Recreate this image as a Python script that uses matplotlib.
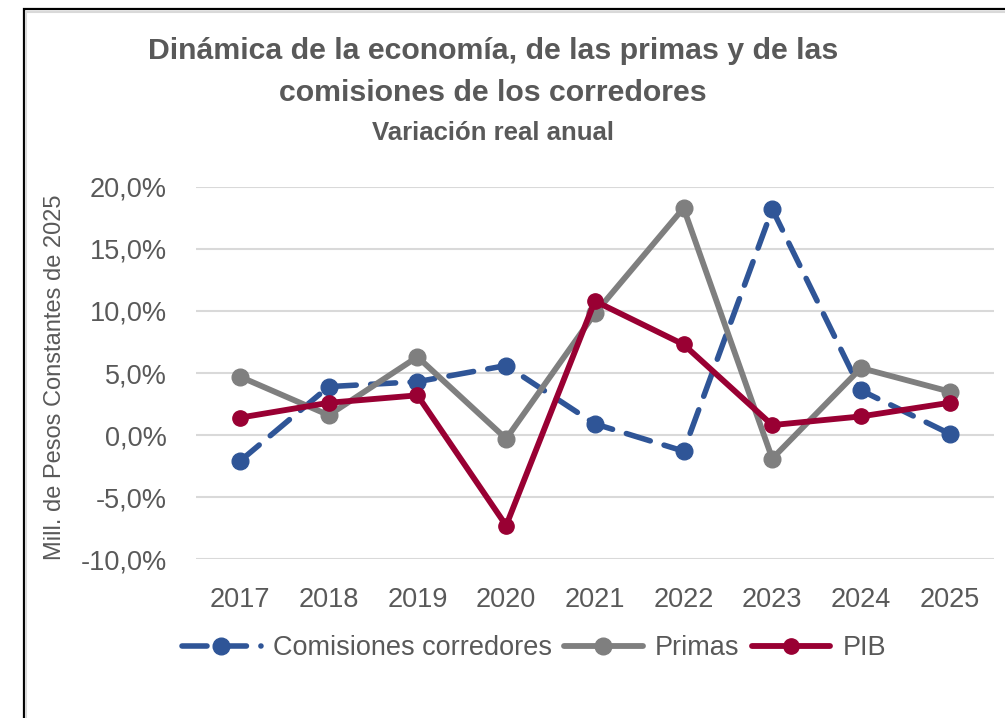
import numpy as np
import matplotlib.pyplot as plt
from matplotlib.patches import Rectangle
from matplotlib.ticker import FuncFormatter

years = [2017, 2018, 2019, 2020, 2021, 2022, 2023, 2024, 2025]
comisiones = [-2.1, 3.9, 4.3, 5.6, 0.9, -1.3, 18.2, 3.6, 0.1]
primas = [4.7, 1.6, 6.3, -0.3, 9.8, 18.3, -1.9, 5.4, 3.5]
pib = [1.4, 2.6, 3.2, -7.3, 10.8, 7.3, 0.8, 1.5, 2.6]

TXT = '#595959'
plt.rcParams['font.family'] = ['Liberation Sans', 'DejaVu Sans']

fig = plt.figure(figsize=(10.05, 7.18), dpi=100)
ax = fig.add_axes([0.1947, 0.2214, 0.7944, 0.5182])

x = np.arange(len(years))
ax.plot(x, comisiones, color='#2F5597', lw=4, dashes=(4.5, 2.6),
        dash_capstyle='round', marker='o', ms=12, label='Comisiones corredores', zorder=3)
ax.plot(x, primas, color='#7F7F7F', lw=4.2, marker='o', ms=12,
        solid_capstyle='round', label='Primas', zorder=3)
ax.plot(x, pib, color='#990033', lw=4.2, marker='o', ms=11,
        solid_capstyle='round', label='PIB', zorder=4)

ax.set_xlim(-0.5, len(years) - 0.5)
ax.set_ylim(-10, 20)
ax.set_yticks(np.arange(-10, 21, 5))
ax.yaxis.set_major_formatter(FuncFormatter(lambda v, p: f'{v:.1f}%'.replace('.', ',')))
ax.set_xticks(x)
ax.set_xticklabels([str(y) for y in years])
ax.grid(axis='y', color='#D9D9D9', lw=1.5, zorder=0)
ax.set_axisbelow(True)
for s in ax.spines.values():
    s.set_visible(False)
ax.tick_params(length=0, labelsize=19.5, labelcolor=TXT)
ax.tick_params(axis='y', pad=21)
ax.tick_params(axis='x', pad=20)

fig.text(55 / 1005, 1 - 377 / 718, 'Mill. de Pesos Constantes de 2025', rotation=90,
         ha='center', va='center', fontsize=17, color=TXT)

fig.text(493 / 1005, 1 - 51 / 718, 'Dinámica de la economía, de las primas y de las',
         ha='center', va='center', fontsize=21.8, fontweight='bold', color=TXT)
fig.text(493 / 1005, 1 - 93 / 718, 'comisiones de los corredores',
         ha='center', va='center', fontsize=21.8, fontweight='bold', color=TXT)
fig.text(493 / 1005, 1 - 133 / 718, 'Variación real anual',
         ha='center', va='center', fontsize=18.5, fontweight='bold', color=TXT)

leg = fig.legend(loc='center', bbox_to_anchor=(534 / 1005, 1 - 648 / 718), ncol=3,
                 frameon=False, fontsize=19.5, handlelength=2.9, handletextpad=0.45,
                 columnspacing=0.45, borderaxespad=0)
for t in leg.get_texts():
    t.set_color(TXT)

# chart frame
fig.patches.append(Rectangle((23.5 / 1005, -0.1), 1.2, 1 - 9.5 / 718 + 0.1,
                             transform=fig.transFigure, fill=False, ec='black', lw=1.6))
fig.patches.append(Rectangle((26 / 1005, -0.1), 1.2, 1 - 12 / 718 + 0.1,
                             transform=fig.transFigure, fill=False, ec='#D9D9D9', lw=1.5))

fig.savefig('out.png', dpi=100)
